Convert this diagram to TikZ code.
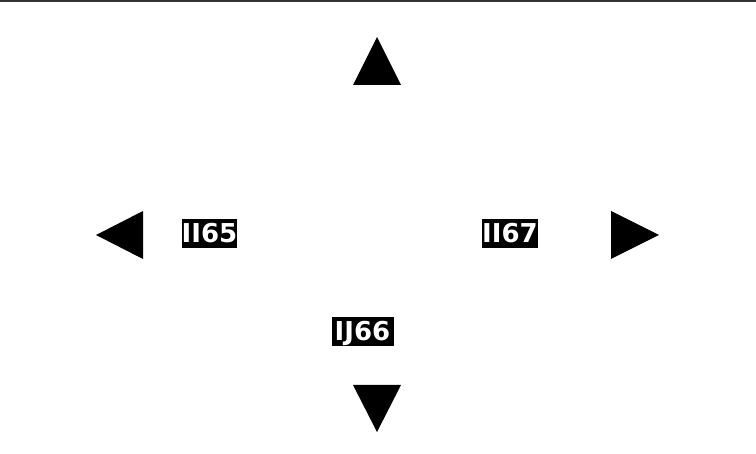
\documentclass[tikz,border=0pt]{standalone}
\usepackage{fontspec}
\setmainfont{DejaVu Sans}
\begin{document}
\begin{tikzpicture}[x=1pt,y=-1pt,
  lbl/.style={fill=black,text=white,font=\bfseries\fontsize{26}{26}\selectfont,
    inner sep=0pt,minimum height=29pt,text height=19pt,text depth=0pt},
  tri/.style={fill=black}]
\useasboundingbox (0,0) rectangle (756,454);
\draw[line width=2pt,black!80] (0,1) -- (756,1);
% triangles
\fill[tri] (377,37) -- (401,85) -- (353,85) -- cycle;
\fill[tri] (377,432) -- (401,385) -- (353,385) -- cycle;
\fill[tri] (96,235) -- (143,211) -- (143,259) -- cycle;
\fill[tri] (659,235) -- (611,211) -- (611,259) -- cycle;
% labels
\node[lbl,minimum width=55pt] (a) at (209.5,233.5) {II65};
\node[lbl,minimum width=55pt] (b) at (510,233.5) {II67};
\node[lbl,minimum width=62pt] (c) at (362.5,331.5) {IJ66};
\end{tikzpicture}
\end{document}
